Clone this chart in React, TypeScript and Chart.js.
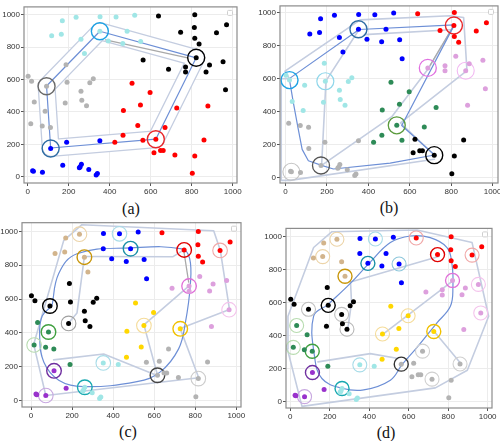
import React, { useEffect, useRef } from 'react';
import { Chart, registerables } from 'chart.js';
Chart.register(...registerables);

// Shared point set (same 79 points in every panel)
const PX = [169,236,353,431,522,117,164,352,485,260,393,464,551,277,
  638,815,813,970,746,921,815,836,822,563,687,770,770,887,953,870,965,
  2,19,187,192,92,303,320,260,264,287,32,85,183,15,71,111,
  112,190,352,24,28,72,171,256,262,252,298,334,340,
  509,597,550,467,727,879,537,670,465,425,562,625,616,648,661,718,815,860,803];
const PY = [962,984,988,986,997,870,879,898,898,848,838,822,834,760,
  992,1000,921,938,891,888,854,819,734,720,664,677,646,689,710,647,537,
  620,590,692,583,559,581,605,528,472,438,461,405,456,328,314,304,
  175,213,222,38,34,29,72,62,78,56,46,12,20,
  577,520,443,409,424,437,316,305,256,213,226,232,149,162,162,135,129,227,22];

// Cluster label of each point, per panel
const LABELS_A = 'c'.repeat(14) + 'k'.repeat(17) + 'g'.repeat(16) + 'b'.repeat(13) + 'r'.repeat(19);
const LABELS_B = 'b'.repeat(14) + 'r'.repeat(8) + 'p' + 'b' + 'p'.repeat(7) + 'c'.repeat(13) + 'g'.repeat(16) + 'e'.repeat(5) + 'p' + 'e'.repeat(5) + 'k'.repeat(8);
const LABELS_CD = 'ttbbbttbbtbbbt' + 'r'.repeat(8) + 'pb' + 'p'.repeat(7) + 'k'.repeat(10) + 'eekeee' + 'vecvvvv' + 'c'.repeat(6) + 'y'.repeat(5) + 'pygyc' + 'g'.repeat(9);

const COLORS: Record<string, string> = {
  c: '#a0e6e6', k: '#000000', g: '#b3b3b3', b: '#0000ff', r: '#ff0000',
  p: '#dda0dd', e: '#2e8b57', t: '#d2b48c', v: '#9932cc', y: '#ffd700',
};

const TICKS = [0, 200, 400, 600, 800, 1000];

// circles: [point index, colour, line width]
const CIRCLES_A: [number, string, number][] = [[35,'#6a6a6a',1.4],[7,'#1ea2e4',1.4],[22,'#000000',1.4],[71,'#e8262a',1.4],[47,'#2f6da3',1.4]];
const CIRCLES_B: [number, string, number][] = [[32,'#1ea2e4',1.4],[34,'#8fd6ea',1.2],[7,'#2f6da3',1.4],[16,'#e8262a',1.4],[24,'#e070e0',1.3],[29,'#f2b8f2',1.1],[66,'#5a9a3c',1.3],[75,'#000000',1.4],[53,'#555555',1.3],[51,'#c4c4c4',1.1]];
const CIRCLES_C: [number, string, number][] = [[1,'#ecd4a8',1.1],[9,'#c8960a',1.4],[3,'#a8dce8',1.1],[8,'#1a90a8',1.4],[18,'#e00000',1.4],[19,'#f0a8a8',1.1],[25,'#e070d8',1.3],[30,'#f4c4ec',1.1],[62,'#f5dc9a',1.1],[64,'#f0c000',1.4],[35,'#000000',1.4],[43,'#a0a0a0',1.1],[42,'#40a040',1.4],[44,'#b8dcb0',1.1],[47,'#7030a0',1.4],[52,'#c8a8e0',1.1],[49,'#a8dce8',1.1],[55,'#18a8b0',1.4],[72,'#444444',1.4],[76,'#cccccc',1.1]];
const CIRCLES_D: [number, string, number][] = [[1,'#ecd4a8',1.1],[6,'#ecd4a8',1.1],[13,'#c8960a',1.4],[3,'#a8dce8',1.1],[10,'#1a90a8',1.4],[12,'#90c8dc',1.1],[14,'#f0a8a8',1.1],[18,'#e00000',1.4],[19,'#f0a8a8',1.1],[22,'#e070d8',1.3],[28,'#f4c4ec',1.1],[30,'#f4c4ec',1.1],[61,'#f5dc9a',1.1],[63,'#f5dc9a',1.1],[64,'#f0c000',1.4],[34,'#000000',1.4],[35,'#c0c0c0',1.1],[38,'#c0c0c0',1.1],[40,'#b8b8b8',1.1],[41,'#b8dcb0',1.1],[44,'#b8dcb0',1.1],[46,'#40a040',1.4],[47,'#7030a0',1.4],[52,'#c8a8e0',1.1],[49,'#a8dce8',1.1],[55,'#18a8b0',1.4],[70,'#333333',1.4],[67,'#d0d0d0',1.1],[75,'#d0d0d0',1.1],[77,'#d0d0d0',1.1]];

// paths (data coordinates)
const BLUE_A = [[92,560],[352,898],[822,734],[625,232],[112,178],[92,560]];
const GRAY_A = [[[380,845],[780,733]]];

const BLUE_B = [[18,599],[355,897],[815,925],[561,315],[719,136],[505,87],[231,51],[174,73],[110,101],[80,170],[60,300],[37,456],[18,599]];
const LIGHT_B = [
  [[18,599],[-3,644],[360,955],[795,980],[860,970],[876,648],[555,330],[719,136]],
  [[18,599],[-21,598],[-21,-18],[21,-18],[719,110]],
  [[355,897],[195,585],[174,73]],
  [[174,73],[513,368],[692,664],[815,925]],
  [[380,866],[800,895]],
];
const GRAY_B = [[[808,912],[698,680]]];

const BLUE_C = [[102,559],[135,751],[224,868],[487,903],[735,897],[773,839],[776,683],[752,460],[719,305],[630,169],[516,111],[256,82],[135,120],[62,227],[42,383],[54,499],[102,559]];
const LIGHT_C = [
  [[13,332],[159,946],[248,1040],[890,1004],[922,889],[967,538],[727,425],[817,134],[72,29],[13,332]],
  [[260,852],[690,850],[747,893]],
  [[260,852],[224,518],[187,464]],
  [[110,240],[354,275],[617,146]],
  [[771,680],[550,447],[617,146]],
];
const GRAY_C = [[[745,880],[768,700]]];

const BLUE_D = [[189,586],[304,716],[400,839],[507,964],[608,1004],[709,994],[794,934],[819,835],[824,696],[811,577],[743,477],[642,328],[566,223],[507,129],[372,70],[262,80],[160,139],[122,278],[118,517],[189,586]];
const LIGHT_D = [
  [[211,1030],[642,1040],[921,964],[1005,517],[897,189],[735,82],[59,-30],[-15,318],[-12,517],[118,934],[211,1030]],
  [[305,725],[752,880]],
  [[305,725],[310,600],[291,437]],
  [[140,240],[405,290],[540,262]],
  [[470,408],[828,736]],
  [[730,423],[865,229]],
];

type Spec = {
  labels: string; circles: [number, string, number][]; radius: number;
  blue: number[][]; tension: number; band: boolean; light: number[][][]; gray: number[][][];
  rect: { l: number; t: number; r: number; b: number }; xr: [number, number]; yr: [number, number];
  tag: string; tagX: number; tagY: number;
};

const SPECS: Spec[] = [
  { labels: LABELS_A, circles: CIRCLES_A, radius: 8.5, blue: BLUE_A, tension: 0, band: true, light: [], gray: GRAY_A,
    rect: { l: 24, t: 3, r: 237, b: 183 }, xr: [-18, 1021], yr: [-38, 1048], tag: '(a)', tagX: 131, tagY: 209 },
  { labels: LABELS_B, circles: CIRCLES_B, radius: 8.5, blue: BLUE_B, tension: 0, band: false, light: LIGHT_B, gray: GRAY_B,
    rect: { l: 280, t: 2, r: 498, b: 183 }, xr: [-27, 1026], yr: [-34, 1040], tag: '(b)', tagX: 389, tagY: 208 },
  { labels: LABELS_CD, circles: CIRCLES_C, radius: 7.3, blue: BLUE_C, tension: 0.4, band: false, light: LIGHT_C, gray: GRAY_C,
    rect: { l: 22, t: 220, r: 241, b: 407 }, xr: [-44, 1023], yr: [-39, 1052], tag: '(c)', tagX: 128, tagY: 432 },
  { labels: LABELS_CD, circles: CIRCLES_D, radius: 7.0, blue: BLUE_D, tension: 0.4, band: false, light: LIGHT_D, gray: [],
    rect: { l: 286, t: 226, r: 492, b: 408 }, xr: [-22, 1022], yr: [-40, 1050], tag: '(d)', tagX: 386, tagY: 433 },
];

const YW = 26, XH = 13, PADT = 6, PADR = 10;
const LIGHT = '#c4cde0', BLUE_LINE = '#6d8fd6', GRAY_LINE = '#a9a9a9';

const framePlugin = {
  id: 'frame',
  afterDraw(chart: any) {
    const { ctx, chartArea: a } = chart;
    ctx.save();
    ctx.strokeStyle = '#8c8c8c';
    ctx.lineWidth = 1.2;
    ctx.strokeRect(a.left, a.top, a.right - a.left, a.bottom - a.top);
    ctx.fillStyle = '#ffffff';
    ctx.strokeStyle = '#cfcfcf';
    ctx.lineWidth = 1;
    ctx.beginPath();
    ctx.roundRect(a.right - 9.5, a.top + 3.5, 5, 5, 1);
    ctx.fill();
    ctx.stroke();
    ctx.restore();
  },
};

const toPts = (p: number[][]) => p.map(([x, y]) => ({ x, y }));

function Panel({ spec }: { spec: Spec }) {
  const ref = useRef<HTMLCanvasElement>(null);
  const w = spec.rect.r - spec.rect.l + YW + PADR;
  const h = spec.rect.b - spec.rect.t + PADT + XH;
  useEffect(() => {
    const lineBase = { showLine: true, pointRadius: 0, borderJoinStyle: 'round', borderCapStyle: 'round', fill: false };
    const datasets: any[] = [];
    if (spec.band) {
      datasets.push({ ...lineBase, data: toPts(spec.blue), borderColor: LIGHT, borderWidth: 18, order: 6 });
      datasets.push({ ...lineBase, data: toPts(spec.blue), borderColor: '#ffffff', borderWidth: 15.4, order: 5 });
    }
    spec.light.forEach((p) => datasets.push({ ...lineBase, data: toPts(p), borderColor: LIGHT, borderWidth: 1.6, order: 4 }));
    spec.gray.forEach((p) => datasets.push({ ...lineBase, data: toPts(p), borderColor: GRAY_LINE, borderWidth: 1.3, order: 3 }));
    datasets.push({ ...lineBase, data: toPts(spec.blue), borderColor: BLUE_LINE, borderWidth: 1.2, tension: spec.tension, order: 2 });
    datasets.push({
      data: spec.circles.map(([i]) => ({ x: PX[i], y: PY[i] })),
      pointRadius: spec.radius,
      pointBackgroundColor: 'rgba(0,0,0,0)',
      pointBorderColor: spec.circles.map((c) => c[1]),
      pointBorderWidth: spec.circles.map((c) => c[2]),
      showLine: false,
      order: 1,
    });
    const keys = Array.from(new Set(spec.labels.split('')));
    keys.forEach((k) => {
      const data: { x: number; y: number }[] = [];
      spec.labels.split('').forEach((l, i) => { if (l === k) data.push({ x: PX[i], y: PY[i] }); });
      datasets.push({ data, pointRadius: 2.5, pointBackgroundColor: COLORS[k], pointBorderWidth: 0, showLine: false, order: 0 });
    });
    const axis = (min: number, max: number, isX: boolean) => ({
      type: 'linear',
      min, max,
      afterBuildTicks: (s: any) => { s.ticks = TICKS.map((v) => ({ value: v })); },
      afterFit: (s: any) => { if (isX) s.height = XH; else s.width = YW; },
      grid: { color: '#ececec', lineWidth: 1, tickColor: '#555555', tickLength: 3 },
      border: { display: false },
      ticks: { font: { family: 'Liberation Sans', size: 8 }, color: '#333333', padding: 1, maxRotation: 0, autoSkip: false,
        callback: (v: any) => String(v) },
    });
    const chart = new Chart(ref.current as HTMLCanvasElement, {
      type: 'scatter',
      data: { datasets },
      options: {
        responsive: false,
        animation: false,
        events: [],
        layout: { padding: { top: PADT, right: PADR, left: 0, bottom: 0 } },
        plugins: { legend: { display: false }, tooltip: { enabled: false } },
        scales: { x: axis(spec.xr[0], spec.xr[1], true) as any, y: axis(spec.yr[0], spec.yr[1], false) as any },
      },
      plugins: [framePlugin],
    } as any);
    return () => chart.destroy();
  }, [spec]);
  return (
    <>
      <canvas ref={ref} width={w} height={h}
        style={{ position: 'absolute', left: spec.rect.l - YW, top: spec.rect.t - PADT, width: w, height: h }} />
      <div style={{ position: 'absolute', left: spec.tagX - 25, top: spec.tagY - 11, width: 50, height: 22, lineHeight: '22px',
        textAlign: 'center', fontFamily: '"Liberation Serif", serif', fontSize: 16, color: '#111' }}>{spec.tag}</div>
    </>
  );
}

export default function App() {
  return (
    <div style={{ position: 'absolute', left: 0, top: 0, width: 500, height: 441, background: '#ffffff', overflow: 'hidden' }}>
      {SPECS.map((s) => <Panel key={s.tag} spec={s} />)}
    </div>
  );
}
